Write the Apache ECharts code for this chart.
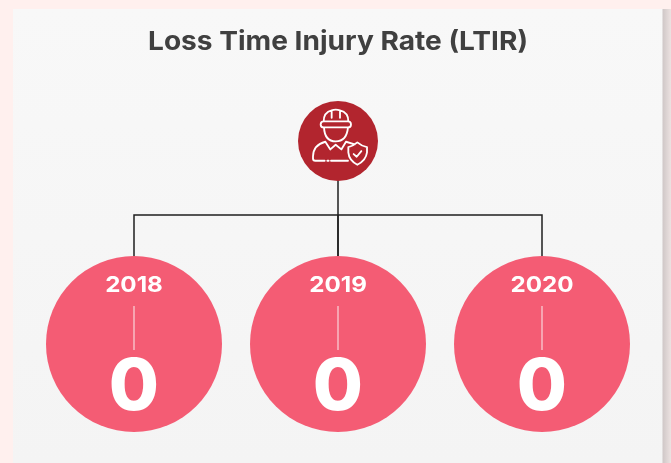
<!DOCTYPE html>
<html><head><meta charset="utf-8">
<style>html,body{margin:0;padding:0;background:#fff0ee}#c{width:671px;height:463px}</style>
<script src="https://cdn.jsdelivr.net/npm/echarts@6/dist/echarts.min.js"></script>
</head><body><div id="c"></div>
<script>
const titleText = 'Loss Time Injury Rate (LTIR)';
const years = ['2018', '2019', '2020'];
const ltirValues = [0, 0, 0];

const FONT = 'Inter';
const PINK = '#f45c74', RED = '#b2252e', WIRE = '#1f1f1f';
const R = 88, ROOT_Y = 141, ROOT_R = 40, BUS_Y = 215;

const ICON = 'M122 104Q122 95 131 95L204 95Q213 95 213 104Q213 113 204 113L131 113Q122 113 122 104Z' +
  'M131 95Q131 68 155 62L155 84M180 84L180 62Q205 68 205 95M155 62Q167 57 180 62' +
  'M132 113Q134 155 167 155Q200 155 204 113' +
  'M136 156L151 179L167 165L184 179L198 156' +
  'M136 156Q100 165 99 200L99 206Q99 213 106 213L134 213M142 213L146 213M153 213L204 213M198 156L224 164' +
  'M232 158Q218 170 205 172L205 188Q207 212 232 225Q258 212 261 188L261 172Q246 170 232 158Z' +
  'M221 193L230 201L244 184';

const chart = echarts.init(document.getElementById('c'), null, {renderer: 'canvas'});
chart.setOption({
  animation: false,
  backgroundColor: '#fff0ee',
  graphic: [
    {type: 'rect', z: -10, shape: {x: 662, y: 9, width: 9, height: 454},
     style: {fill: new echarts.graphic.LinearGradient(0, 0, 1, 0, [
       {offset: 0, color: '#cdc5c5'}, {offset: 1, color: '#ece2e1'}])}},
    {type: 'rect', z: -9, shape: {x: 13, y: 9, width: 649.5, height: 454},
     style: {fill: new echarts.graphic.LinearGradient(0, 0, 0, 1, [
       {offset: 0, color: '#f8f8f8'}, {offset: 1, color: '#f4f4f4'}])}},
    {type: 'text', z: 5, x: 338, y: 42, scaleX: 1.08,
     style: {text: titleText, fill: '#404040', fontFamily: FONT, fontWeight: 700, fontSize: 26,
             textAlign: 'center', textVerticalAlign: 'middle'}}
  ],
  grid: {left: 32, width: 612, top: 256, height: 176},
  xAxis: {type: 'category', data: years, show: false},
  yAxis: {type: 'value', min: -1, max: 1, show: false},
  series: [
    {
      type: 'custom', coordinateSystem: 'cartesian2d', z: 3,
      data: years.map((y, i) => [y, ltirValues[i]]),
      encode: {x: 0, y: 1},
      renderItem(params, api) {
        const [x, cy] = api.coord([api.value(0), 0]);
        const rootX = api.coord([years[1], 0])[0];
        const label = years[params.dataIndex];
        const value = String(ltirValues[params.dataIndex]);
        return {type: 'group', children: [
          {type: 'polyline', shape: {points: [[x, cy - R], [x, BUS_Y], [rootX, BUS_Y]]},
           style: {fill: 'none', stroke: WIRE, lineWidth: 1.5}},
          {type: 'circle', shape: {cx: x, cy: cy, r: R}, style: {fill: PINK}},
          {type: 'text', x: x, y: cy - 58.5, scaleX: 1.1,
           style: {text: label, fill: '#fff', fontFamily: FONT, fontWeight: 700, fontSize: 22,
                   textAlign: 'center', textVerticalAlign: 'middle'}},
          {type: 'line', shape: {x1: x, y1: cy - 38, x2: x, y2: cy + 6},
           style: {stroke: '#f9d5da', lineWidth: 1.2}},
          {type: 'text', x: x, y: cy + 44, scaleX: 1.01,
           style: {text: value, fill: '#fff', fontFamily: FONT, fontWeight: 800, fontSize: 72,
                   textAlign: 'center', textVerticalAlign: 'middle'}}
        ]};
      }
    },
    {
      type: 'custom', coordinateSystem: 'cartesian2d', z: 4,
      data: [[years[1], 0]],
      encode: {x: 0, y: 1},
      renderItem(params, api) {
        const x = api.coord([years[1], 0])[0];
        return {type: 'group', children: [
          {type: 'line', shape: {x1: x, y1: ROOT_Y, x2: x, y2: BUS_Y + 41},
           style: {stroke: WIRE, lineWidth: 1.5}},
          {type: 'circle', shape: {cx: x, cy: ROOT_Y, r: ROOT_R}, style: {fill: RED}},
          {type: 'group', x: x - 58, y: ROOT_Y - 51, scaleX: 1 / 3, scaleY: 1 / 3, children: [
            {type: 'path', shape: {pathData: ICON, x: 99, y: 58, width: 162, height: 167},
             style: {fill: 'none', stroke: '#fff', lineWidth: 5.5, lineJoin: 'round', lineCap: 'round'}}
          ]}
        ]};
      }
    }
  ]
});
</script></body></html>
